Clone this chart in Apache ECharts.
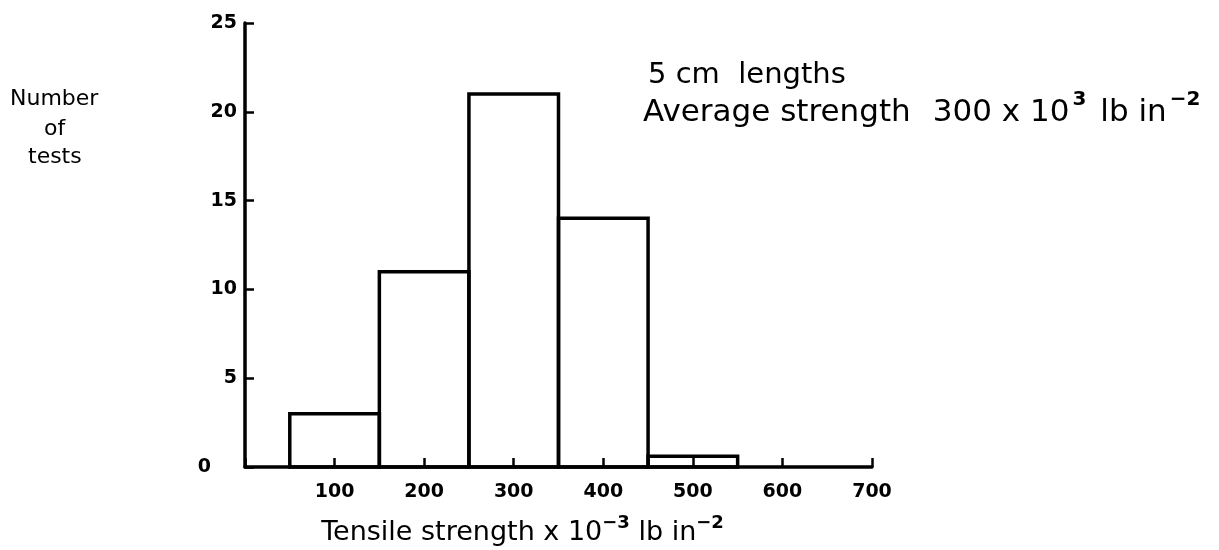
<!DOCTYPE html>
<html>
<head>
<meta charset="utf-8">
<script src="https://cdn.jsdelivr.net/npm/echarts@6/dist/echarts.min.js"></script>
<style>html,body{margin:0;padding:0;background:#fff}#c{width:1219px;height:550px}</style>
</head>
<body>
<div id="c"></div>
<script>
const binStarts = [50, 150, 250, 350, 450];
const binEnds = [150, 250, 350, 450, 550];
const counts = [3, 11, 21, 14, 0.6];
const xTicks = [100, 200, 300, 400, 500, 600, 700];
const yTicks = [0, 5, 10, 15, 20, 25];

const FONT = 'DejaVu Sans';
const chart = echarts.init(document.getElementById('c'));
const data = binStarts.map((s, i) => [s, binEnds[i], counts[i]]);

chart.setOption({
  animation: false,
  backgroundColor: '#fff',
  grid: { left: 245, right: 347, top: 23, bottom: 83, containLabel: false, outerBoundsMode: 'none' },
  xAxis: {
    type: 'value', min: 0, max: 700, interval: 100,
    axisLine: { show: true, onZero: false, lineStyle: { color: '#000', width: 3.5 } },
    axisTick: { show: true, inside: true, length: 9, lineStyle: { color: '#000', width: 2.5 } },
    axisLabel: {
      color: '#000', fontFamily: FONT, fontSize: 19, fontWeight: 'bold', margin: 16,
      formatter: v => (xTicks.indexOf(v) >= 0 ? String(v) : '')
    },
    splitLine: { show: false },
    name: '{a|Tensile strength x 10}{s|\u22123}{a| lb in}{s|\u22122}',
    nameLocation: 'middle', nameGap: 47,
    nameTextStyle: {
      padding: [0, 72, 0, 0],
      rich: {
        a: { fontFamily: FONT, fontSize: 27, color: '#000', verticalAlign: 'bottom', lineHeight: 32 },
        s: { fontFamily: FONT, fontSize: 18, color: '#000', fontWeight: 'bold', verticalAlign: 'top', padding: [0, 0, 14, 0], lineHeight: 32 }
      }
    }
  },
  yAxis: {
    type: 'value', min: 0, max: 25, interval: 5,
    axisLine: { show: true, lineStyle: { color: '#000', width: 3.5 } },
    axisTick: { show: true, inside: true, length: 9, lineStyle: { color: '#000', width: 2.5 } },
    axisLabel: {
      color: '#000', fontFamily: FONT, fontSize: 19, fontWeight: 'bold', margin: 8,
      formatter: v => (yTicks.indexOf(v) >= 0 ? (v === 0 ? '{z|0}' : String(v)) : ''),
      rich: { z: { fontFamily: FONT, fontSize: 19, fontWeight: 'bold', color: '#000', padding: [0, 26, 0, 0] } }
    },
    splitLine: { show: false }
  },
  graphic: [
    { type: 'text', left: 10, top: 88, style: { text: 'Number', font: '22px "DejaVu Sans"', fill: '#000' } },
    { type: 'text', left: 44, top: 118, style: { text: 'of', font: '22px "DejaVu Sans"', fill: '#000' } },
    { type: 'text', left: 28, top: 146, style: { text: 'tests', font: '22px "DejaVu Sans"', fill: '#000' } },
    { type: 'text', left: 648, top: 61, style: { text: '5 cm  lengths', font: '29px "DejaVu Sans"', fill: '#000' } },
    { type: 'text', left: 643, top: 90, style: {
        text: '{a|Average strength}{b|300 x 10}{s|3}{c|lb in}{s|\u22122}',
        rich: {
          a: { fontFamily: FONT, fontSize: 31, fill: '#000', lineHeight: 38, verticalAlign: 'bottom' },
          b: { fontFamily: FONT, fontSize: 31, fill: '#000', lineHeight: 38, verticalAlign: 'bottom', padding: [0, 0, 0, 22] },
          c: { fontFamily: FONT, fontSize: 31, fill: '#000', lineHeight: 38, verticalAlign: 'bottom', padding: [0, 0, 0, 14] },
          s: { fontFamily: FONT, fontSize: 20, fontWeight: 'bold', fill: '#000', lineHeight: 38, verticalAlign: 'top', padding: [0, 0, 16, 3] }
        }
    } }
  ],
  series: [{
    type: 'custom',
    data: data,
    encode: { x: [0, 1], y: 2 },
    renderItem: function (params, api) {
      const p0 = api.coord([api.value(0), 0]);
      const p1 = api.coord([api.value(1), api.value(2)]);
      return {
        type: 'rect',
        shape: { x: p0[0], y: p1[1], width: p1[0] - p0[0], height: p0[1] - p1[1] },
        style: { fill: 'rgba(255,255,255,0)', stroke: '#000', lineWidth: 3.5 }
      };
    }
  }]
});
</script>
</body>
</html>
